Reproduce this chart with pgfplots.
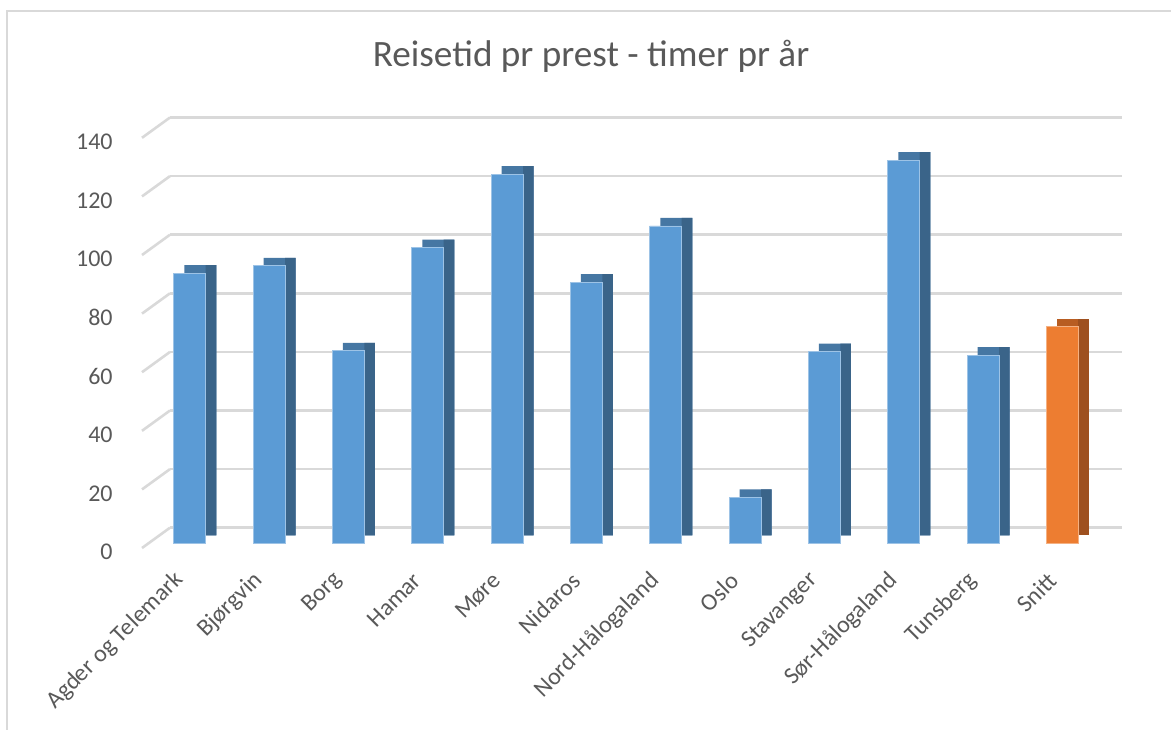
\documentclass[border=0pt]{standalone}
\usepackage{pgfplots}
\usepackage{pgfplotstable}
\pgfplotsset{compat=1.18}
\usepackage{fontspec}
\setmainfont{Carlito}
\definecolor{gridgray}{HTML}{D9D9D9}
\definecolor{txtgray}{HTML}{595959}
\definecolor{bfront}{HTML}{5B9BD5}
\definecolor{bside}{HTML}{3A6489}
\definecolor{btop}{HTML}{4677A3}
\definecolor{ofront}{HTML}{ED7D31}
\definecolor{oside}{HTML}{9E501F}
\definecolor{otop}{HTML}{B85D22}

\pgfplotstableread{
x y
0 92.2
1 94.7
2 65.7
3 100.9
4 126.0
5 89.1
6 108.3
7 15.7
8 65.4
9 130.8
10 64.2
}\bluedata
\pgfplotstableread{
x y
11 73.9
}\orangedata

\begin{document}
\begin{tikzpicture}
\useasboundingbox (0,0) rectangle (585.5pt,-364.5pt);
\draw[gridgray, line width=0.75pt] (3.5pt,-400pt) -- (3.5pt,-5.5pt) -- (600pt,-5.5pt);
\node[anchor=base, text=txtgray, font=\fontsize{18.6}{21}\selectfont, inner sep=0pt] at (295.5pt,-33pt) {Reisetid pr prest - timer pr år};
\begin{axis}[
 at={(75pt,-271.65pt)}, anchor=south west,
 scale only axis, width=476pt, height=205.1pt,
 xmin=-0.5, xmax=11.5, ymin=0, ymax=140,
 clip=false,
 axis line style={draw=none}, tick style={draw=none},
 xtick={0,...,11},
 xticklabels={Agder og Telemark, Bjørgvin, Borg, Hamar, Møre, Nidaros, Nord-Hålogaland, Oslo, Stavanger, Sør-Hålogaland, Tunsberg, Snitt},
 ytick={0,20,...,140},
 ymajorgrids,
 major grid style={draw=gridgray, line width=1.3pt, xshift=10pt, yshift=7.8pt},
 ticklabel style={font=\fontsize{12}{14}\selectfont, text=txtgray},
 yticklabel style={anchor=east, inner sep=0pt, xshift=-18.5pt, yshift=-4.3pt},
 xticklabel style={inner sep=0pt, xshift=-5pt, yshift=-16.6pt, rotate=45, anchor=east},
 /pgf/number format/assume math mode=true,
]
\pgfplotsinvokeforeach{0,20,40,60,80,100,120,140}{
  \draw[gridgray, line width=1.3pt] ([xshift=-4pt,yshift=-2.35pt]axis cs:-0.5,#1) -- ([xshift=10pt,yshift=7.8pt]axis cs:-0.5,#1);
}
% blue bars: top, side, front
\addplot[ybar, bar width=16pt, bar shift=5.3pt, yshift=4pt, fill=btop, draw=none] table[x=x,y=y] {\bluedata};
\addplot[ybar, bar width=5.3pt, bar shift=10.65pt, yshift=4pt, fill=bside, draw=none] table[x=x,y=y] {\bluedata};
\addplot[ybar, bar width=16pt, bar shift=0pt, fill=bfront, draw=bfront!60!white, line width=0.4pt] table[x=x,y=y] {\bluedata};
% orange bar
\addplot[ybar, bar width=16pt, bar shift=5.3pt, yshift=4pt, fill=otop, draw=none] table[x=x,y=y] {\orangedata};
\addplot[ybar, bar width=5.3pt, bar shift=10.65pt, yshift=4pt, fill=oside, draw=none] table[x=x,y=y] {\orangedata};
\addplot[ybar, bar width=16pt, bar shift=0pt, fill=ofront, draw=ofront!60!white, line width=0.4pt] table[x=x,y=y] {\orangedata};
\end{axis}
\end{tikzpicture}
\end{document}
